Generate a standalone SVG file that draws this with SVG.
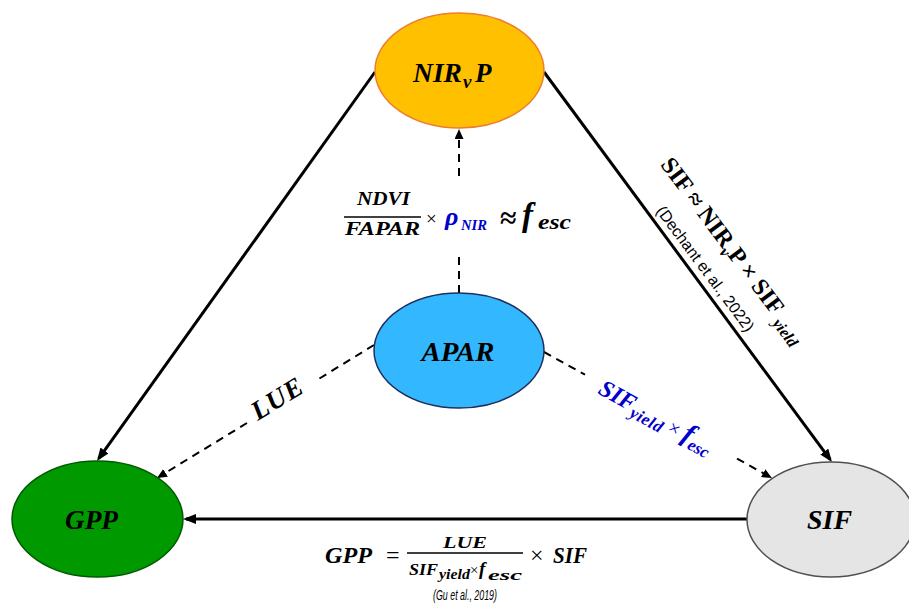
<svg xmlns="http://www.w3.org/2000/svg" width="909" height="606" viewBox="0 0 909 606">
<style>
.node{stroke-width:1.5}
.lbl{font-family:"Liberation Serif",serif;font-weight:bold;font-style:italic;fill:#000}
.solid{stroke:#000;stroke-width:3;fill:none}
.dash{stroke:#000;stroke-width:2;fill:none;stroke-dasharray:8 6}
.m{font-family:"Liberation Serif",serif;fill:#000}
.bi{font-weight:bold;font-style:italic}
.blue{fill:#0000CC}
.ref{font-family:"Liberation Sans",sans-serif;fill:#000}
</style>
<defs>
<marker id="arr" markerUnits="userSpaceOnUse" markerWidth="13" markerHeight="10" refX="10" refY="5" orient="auto">
<path d="M0,0 L13,5 L0,10 z" fill="#000"/>
</marker>
<marker id="arrd" markerUnits="userSpaceOnUse" markerWidth="10" markerHeight="9" refX="8" refY="4.5" orient="auto">
<path d="M0,0 L10,4.5 L0,9 z" fill="#000"/>
</marker>
</defs>
<rect width="909" height="606" fill="#fff"/>
<g id="connectors">
<line class="solid" x1="375" y1="72" x2="98.7" y2="458.6" marker-end="url(#arr)"/>
<line class="solid" x1="544" y1="72" x2="830.2" y2="459.6" marker-end="url(#arr)"/>
<line class="solid" x1="747" y1="519" x2="186" y2="519" marker-end="url(#arr)"/>
<line class="dash" x1="459" y1="293" x2="459" y2="251"/>
<line class="dash" x1="459" y1="176" x2="459" y2="131" marker-end="url(#arrd)"/>
<line class="dash" x1="374" y1="345" x2="317" y2="380"/>
<line class="dash" x1="247" y1="423" x2="158.7" y2="477" marker-end="url(#arrd)"/>
<line class="dash" x1="544" y1="352" x2="585" y2="374.6"/>
<line class="dash" x1="737" y1="458.6" x2="770.2" y2="477" marker-end="url(#arrd)"/>
</g>
<g id="node-nirvp">
<ellipse class="node" cx="459.5" cy="70.5" rx="84.5" ry="57.5" fill="#FFC000" stroke="#ED7D31"/>
<text class="lbl" x="413" y="82" font-size="27" textLength="49" lengthAdjust="spacingAndGlyphs">NIR</text>
<text class="lbl" x="463" y="88" font-size="19">v</text>
<text class="lbl" x="475" y="82" font-size="27">P</text>
</g>
<g id="node-apar">
<ellipse class="node" cx="459" cy="350.5" rx="85" ry="57.5" fill="#33B8FF" stroke="#1F2F5F"/>
<text class="lbl" x="458" y="361" font-size="27" text-anchor="middle" textLength="73" lengthAdjust="spacingAndGlyphs">APAR</text>
</g>
<g id="node-gpp">
<ellipse class="node" cx="97.5" cy="519" rx="85.5" ry="58" fill="#009A00" stroke="#005A00"/>
<text class="lbl" x="91.5" y="529" font-size="27" text-anchor="middle" textLength="53" lengthAdjust="spacingAndGlyphs">GPP</text>
</g>
<g id="node-sif">
<ellipse class="node" cx="831" cy="519.5" rx="84" ry="57.5" fill="#E5E5E5" stroke="#505050"/>
<text class="lbl" x="829.5" y="529" font-size="27" text-anchor="middle" textLength="45" lengthAdjust="spacingAndGlyphs">SIF</text>
</g>
<g id="label-fesc">
<text class="m bi" x="357" y="205" font-size="18" textLength="53" lengthAdjust="spacingAndGlyphs">NDVI</text>
<line x1="344" y1="217" x2="421" y2="217" stroke="#000" stroke-width="1.5"/>
<text class="m bi" x="345" y="235" font-size="18" textLength="75" lengthAdjust="spacingAndGlyphs">FAPAR</text>
<text class="m" x="426" y="225" font-size="19">×</text>
<text class="m bi blue" x="445" y="225" font-size="26">ρ</text>
<text class="m bi blue" x="461" y="230" font-size="14" textLength="26" lengthAdjust="spacingAndGlyphs">NIR</text>
<text class="m" x="500" y="228" font-size="30" font-weight="bold">≈</text>
<text class="m bi" x="522" y="226" font-size="33">f</text>
<text class="m bi" x="538" y="229" font-size="21" textLength="33" lengthAdjust="spacingAndGlyphs">esc</text>
</g>
<g id="label-dechant">
<text class="m" font-weight="bold" font-size="24" x="727" y="255" text-anchor="middle" transform="rotate(53.3 727 255)">SIF ≈ NIR<tspan font-size="16" font-style="italic" dy="5">v</tspan><tspan dy="-5">P × SIF </tspan><tspan font-size="16" font-style="italic" dy="5">yield</tspan></text>
<text class="ref" font-size="16" x="701" y="272" text-anchor="middle" textLength="152" lengthAdjust="spacingAndGlyphs" transform="rotate(53.3 701 272)">(Dechant et al., 2022)</text>
</g>
<g id="label-lue">
<text class="m bi" x="282" y="406" font-size="27" text-anchor="middle" letter-spacing="1" transform="rotate(-31.5 282 406)">LUE</text>
</g>
<g id="label-sifyield">
<text class="m blue" x="597" y="393" transform="rotate(29 597 393)"><tspan class="bi" font-size="24">SIF</tspan><tspan class="bi" font-size="17" dy="5" letter-spacing="0.5">yield</tspan><tspan font-size="20" dy="-5"> × </tspan><tspan class="bi" font-size="28">f</tspan><tspan class="bi" font-size="17" dy="5">esc</tspan></text>
</g>
<g id="label-gpp-formula">
<text class="m bi" x="325" y="563" font-size="23" textLength="47" lengthAdjust="spacingAndGlyphs">GPP</text>
<text class="m" x="386" y="563" font-size="24">=</text>
<text class="m bi" x="465" y="548" font-size="16" text-anchor="middle" textLength="44" lengthAdjust="spacingAndGlyphs">LUE</text>
<line x1="407" y1="553" x2="523" y2="553" stroke="#000" stroke-width="1.5"/>
<text class="m bi" x="409" y="575" font-size="17" textLength="29" lengthAdjust="spacingAndGlyphs">SIF</text>
<text class="m bi" x="439" y="579" font-size="14" textLength="31" lengthAdjust="spacingAndGlyphs">yield</text>
<text class="m" x="470" y="575" font-size="15">×</text>
<text class="m bi" x="479" y="575" font-size="19">f</text>
<text class="m bi" x="488" y="580" font-size="14" textLength="34" lengthAdjust="spacingAndGlyphs">esc</text>
<text class="m" x="530" y="563" font-size="24">×</text>
<text class="m bi" x="553" y="563" font-size="23" textLength="34" lengthAdjust="spacingAndGlyphs">SIF</text>
<text class="ref" x="465" y="600" font-size="14" font-style="italic" text-anchor="middle" textLength="64" lengthAdjust="spacingAndGlyphs">(Gu et al., 2019)</text>
</g>
</svg>
